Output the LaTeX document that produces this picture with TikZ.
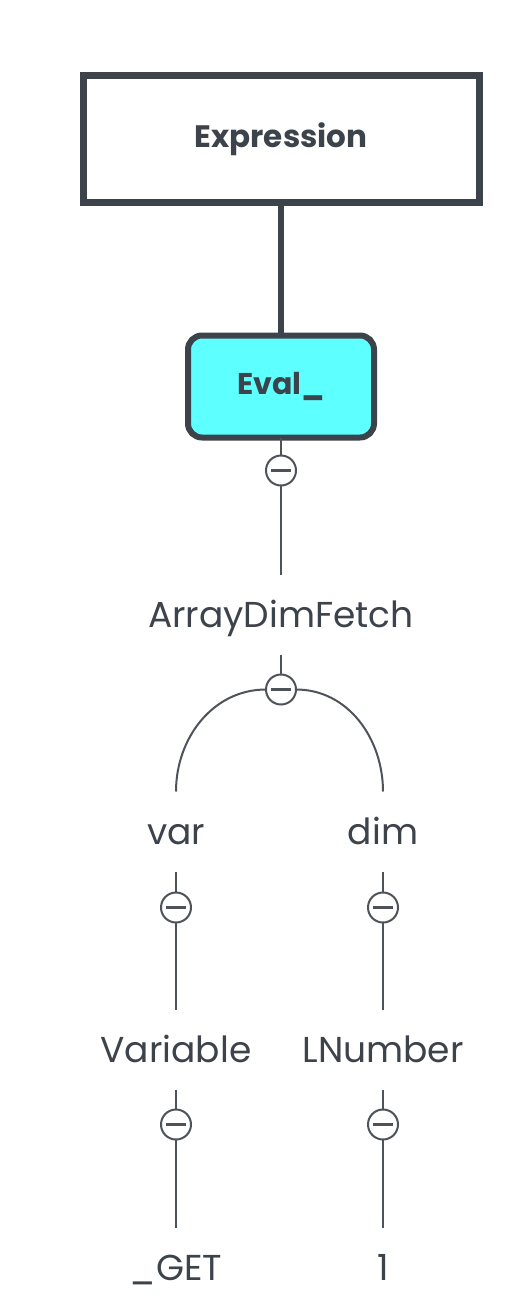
\documentclass[tikz,border=0pt]{standalone}
\usepackage{fontspec}
\setmainfont{Poppins}
\usepackage{tikz}
\usetikzlibrary{positioning}

\definecolor{inkgray}{HTML}{3D434B}
\definecolor{linegray}{HTML}{4E535A}
\definecolor{evalcyan}{HTML}{5EFFFF}

\tikzset{
  headbox/.style={draw=inkgray, line width=7pt, rectangle, minimum width=396pt,
    minimum height=127pt, font=\fontsize{31}{33}\selectfont\bfseries, text=inkgray},
  evalbox/.style={draw=inkgray, line width=6pt, rectangle, rounded corners=14pt,
    fill=evalcyan, minimum width=186pt, minimum height=102pt,
    font=\fontsize{30}{32}\selectfont\bfseries, text=inkgray},
  toggle/.style={draw=linegray, line width=2pt, circle, minimum size=30pt,
    inner sep=0pt, fill=white,
    path picture={\draw[line width=2.6pt, linegray]
      ([xshift=-10pt]path picture bounding box.center) --
      ([xshift=10pt]path picture bounding box.center);}},
  astlabel/.style={minimum height=80pt, inner sep=0pt, text=inkgray,
    font=\fontsize{36}{38}\selectfont, text height=26pt, text depth=1pt},
  link/.style={draw=linegray, line width=2pt}
}

\begin{document}
\begin{tikzpicture}
    [every node/.style={outer sep=0pt}]
    \useasboundingbox (0,0) rectangle (528pt,-1316pt);

    \node (expr) [headbox] at (281pt,-139pt) {Expression};
    \node (eval) [evalbox, below = 133pt of expr] {Eval\_};
    \node (t1) [toggle, below = 18pt of eval] {};
    \node (adf) [astlabel, below = 89pt of t1] {ArrayDimFetch};
    \node (t2) [toggle, below = 20pt of adf] {};
    \node (var) [astlabel, below = 87pt of t2, xshift=-105pt] {var};
    \node (dim) [astlabel, below = 87pt of t2, xshift=102pt] {dim};
    \node (t3) [toggle, below = 21pt of var] {};
    \node (t4) [toggle, below = 21pt of dim] {};
    \node (variable) [astlabel, below = 87pt of t3] {Variable};
    \node (lnum) [astlabel, below = 87pt of t4] {LNumber};
    \node (t5) [toggle, below = 20pt of variable] {};
    \node (t6) [toggle, below = 20pt of lnum] {};
    \node (get) [astlabel, below = 88pt of t5] {\_GET};
    \node (one) [astlabel, below = 88pt of t6] {1};

    \draw[draw=inkgray, line width=6pt] (expr.south) -- (eval.north);
    \draw[link] (eval) -- (t1);
    \draw[link] (t1) -- (adf);
    \draw[link] (adf) -- (t2);
    \draw[link] (t2.west) to[out=180, in=90] (var.north);
    \draw[link] (t2.east) to[out=0, in=90] (dim.north);
    \draw[link] (var) -- (t3);
    \draw[link] (dim) -- (t4);
    \draw[link] (t3) -- (variable);
    \draw[link] (t4) -- (lnum);
    \draw[link] (variable) -- (t5);
    \draw[link] (lnum) -- (t6);
    \draw[link] (t5) -- (get);
    \draw[link] (t6) -- (one);

  \end{tikzpicture}
\end{document}
